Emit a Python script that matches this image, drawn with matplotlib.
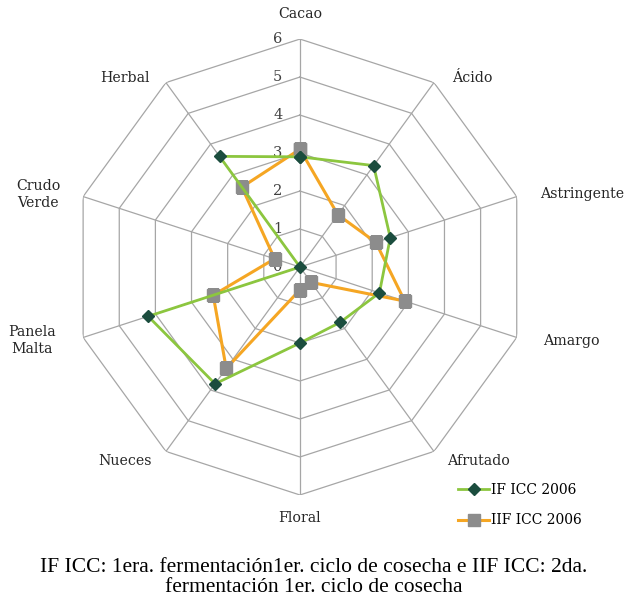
import numpy as np
import matplotlib.pyplot as plt
from matplotlib import transforms

# categories and values
categorias = ['Cacao', 'Ácido', 'Astringente', 'Amargo', 'Afrutado',
              'Floral', 'Nueces', 'Panela\nMalta', 'Crudo\nVerde', 'Herbal']
if_icc = [2.9, 3.3, 2.5, 2.2, 1.8, 2.0, 3.8, 4.2, 0.0, 3.6]
iif_icc = [3.1, 1.7, 2.1, 2.9, 0.5, 0.6, 3.3, 2.4, 0.7, 2.6]
niveles = [1, 2, 3, 4, 5, 6]

n = len(categorias)
ang = np.linspace(0, 2 * np.pi, n, endpoint=False)
ang_c = np.append(ang, ang[0])

fig = plt.figure(figsize=(6.28, 6.02), dpi=100)
ax = fig.add_axes([0.1146, 0.1777, 0.726, 0.7575], projection='polar')
ax.set_theta_zero_location('N')
ax.set_theta_direction(-1)
ax.set_ylim(0, 6)
ax.set_xticks([])
ax.set_yticks([])
ax.grid(False)
ax.spines['polar'].set_visible(False)

# decagon grid
for k in niveles:
    ax.plot(ang_c, [k] * (n + 1), color='#a6a6a6', lw=0.9, zorder=1)
for a in ang:
    ax.plot([a, a], [0, 6], color='#a6a6a6', lw=0.9, zorder=1)

# radial tick labels, left of the Cacao axis
off = transforms.offset_copy(ax.transData, fig=fig, x=-16, y=0, units='points')
for k in [0] + niveles:
    ax.text(0, k, str(k), transform=off, ha='center', va='center',
            fontsize=10.5, family='DejaVu Serif', color='#404040')

# category labels: offset (pixels) from the outer vertex
desp = [(0, 25), (18, 5), (23, 3), (26, -4), (13, -10),
        (0, -23), (-14, -10), (-27, -3), (-23, 2), (-16, 5)]
for a, lab, (dx, dy) in zip(ang, categorias, desp):
    s = np.sin(a)
    if abs(s) < 0.1:
        ha = 'center'
    else:
        ha = 'left' if s > 0 else 'right'
    tr = transforms.offset_copy(ax.transData, fig=fig, x=dx * 0.72,
                                y=dy * 0.72, units='points')
    ax.text(a, 6, lab, transform=tr, ha=ha, va='center', fontsize=10.2,
            family='DejaVu Serif', color='#262626', linespacing=1.3,
            multialignment='center')

l1, = ax.plot(ang_c, if_icc + if_icc[:1], color='#8cc63f', lw=2.0,
              marker='D', markersize=6, markerfacecolor='#1b4d3e',
              markeredgecolor='#1b4d3e', zorder=4)
l2, = ax.plot(ang_c, iif_icc + iif_icc[:1], color='#f5a623', lw=2.2,
              marker='s', markersize=9, markerfacecolor='#8c8c8c',
              markeredgecolor='#8c8c8c', zorder=3)

fig.legend([l1, l2], ['IF ICC 2006', 'IIF ICC 2006'], loc='center left',
           bbox_to_anchor=(0.71, 0.161), frameon=False, handlelength=2.2,
           handletextpad=0.15, labelspacing=1.2,
           prop={'family': 'DejaVu Serif', 'size': 10})

fig.text(0.5, 0.041, 'IF ICC: 1era. fermentación1er. ciclo de cosecha e IIF ICC: 2da.\n'
         'fermentación 1er. ciclo de cosecha', ha='center', va='center',
         fontsize=15.5, family='Liberation Serif', linespacing=1.05)

fig.savefig('out.png', dpi=100)
